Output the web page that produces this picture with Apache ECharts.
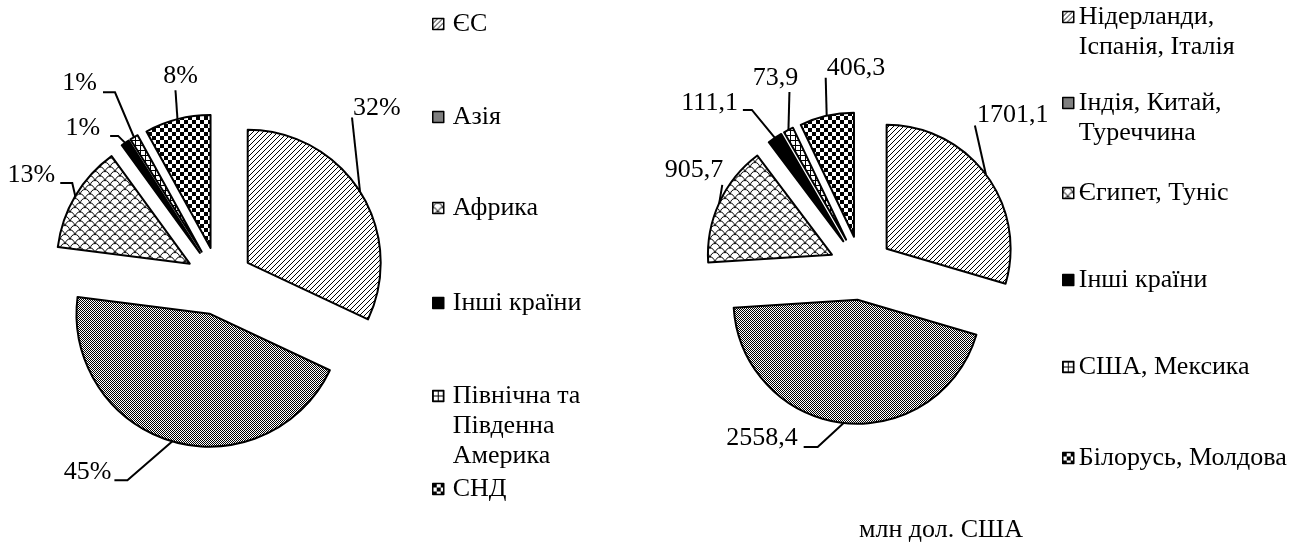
<!DOCTYPE html>
<html>
<head>
<meta charset="utf-8">
<script src="https://cdn.jsdelivr.net/npm/echarts@6/dist/echarts.min.js"></script>
<style>
html, body { margin: 0; padding: 0; background: #fff; }
#chart { width: 1303px; height: 542px; }
</style>
</head>
<body>
<div id="chart"></div>
<script>
// структура експорту, %
var leftNames = ['ЄС', 'Азія', 'Африка', 'Інші країни', 'Північна та Південна Америка', 'СНД'];
var leftShares = [32, 45, 13, 1, 1, 8];
// експорт, млн дол. США
var rightNames = ['Нідерланди, Іспанія, Італія', 'Індія, Китай, Туреччина', 'Єгипет, Туніс', 'Інші країни', 'США, Мексика', 'Білорусь, Молдова'];
var rightValues = [1701.1, 2558.4, 905.7, 111.1, 73.9, 406.3];
// як підписи стоять у легенді (з переносами)
var leftLegendText = ['ЄС', 'Азія', 'Африка', 'Інші країни', 'Північна та\nПівденна\nАмерика', 'СНД'];
var rightLegendText = ['Нідерланди,\nІспанія, Італія', 'Індія, Китай,\nТуреччина', 'Єгипет, Туніс', 'Інші країни', 'США, Мексика', 'Білорусь, Молдова'];
var unitText = 'млн дол. США';

var FONT = "'Liberation Serif', 'DejaVu Serif', serif";
var FS = 26;
var LH = 30;

// штрихування
function tile(w, h, draw) {
  var c = document.createElement('canvas');
  c.width = w; c.height = h;
  var ctx = c.getContext('2d');
  ctx.fillStyle = '#fff';
  ctx.fillRect(0, 0, w, h);
  ctx.fillStyle = '#000';
  ctx.strokeStyle = '#000';
  draw(ctx);
  return { image: c, repeat: 'repeat' };
}
var hatch = tile(5, 5, function (ctx) {
  ctx.lineWidth = 1;
  ctx.beginPath();
  ctx.moveTo(-1, 6); ctx.lineTo(6, -1);
  ctx.moveTo(-1, 1); ctx.lineTo(1, -1);
  ctx.moveTo(4, 6); ctx.lineTo(6, 4);
  ctx.stroke();
});
var dither = tile(2, 2, function (ctx) {
  ctx.fillRect(0, 0, 1, 1);
  ctx.fillRect(1, 1, 1, 1);
});
var scales = tile(10, 9, function (ctx) {
  ctx.lineWidth = 1;
  ctx.beginPath(); ctx.arc(5, 5, 4.5, Math.PI, 2 * Math.PI); ctx.stroke();
  ctx.beginPath(); ctx.arc(0, 9.5, 4.5, Math.PI, 2 * Math.PI); ctx.stroke();
  ctx.beginPath(); ctx.arc(10, 9.5, 4.5, Math.PI, 2 * Math.PI); ctx.stroke();
});
var grid = tile(5, 5, function (ctx) {
  ctx.fillRect(0, 0, 5, 1);
  ctx.fillRect(0, 0, 1, 5);
});
var checker = tile(8, 8, function (ctx) {
  ctx.fillRect(0, 0, 4, 4);
  ctx.fillRect(4, 4, 4, 4);
});
var fills = [hatch, dither, scales, '#000', grid, checker];

// зсув підписів від точки на дузі
var leftLabelPos = [
  { line: [[-8, -74]], text: [-7, -83], align: 'left' },
  { line: [[-45, 39], [-58, 39]], text: [-61, 31], align: 'right' },
  { line: [[-3, -13], [-15, -13]], text: [-20, -21], align: 'right' },
  { line: [[-7, -7], [-15, -7]], text: [-25, -15], align: 'right' },
  { line: [[-19, -45], [-31, -45]], text: [-37, -54], align: 'right' },
  { line: [[-2, -29]], text: [3, -43], align: 'center' }
];
var rightLabelPos = [
  { line: [[-11, -49]], text: [-9, -59], align: 'left' },
  { line: [[-26, 24], [-40, 24]], text: [-46, 15], align: 'right' },
  { line: [[3, -18]], text: [4, -33], align: 'right' },
  { line: [[-23, -28], [-32, -28]], text: [-37, -35], align: 'right' },
  { line: [[1, -38]], text: [-13, -52], align: 'center' },
  { line: [[-1, -38]], text: [0, -48], align: 'left' }
];

// розсунутий пиріг: кожен сектор окремою серією, зсунутою вздовж своєї бісектриси
function explodedPie(names, values, center, radius, offset, fmt, pos) {
  var total = values.reduce(function (s, v) { return s + v; }, 0);
  var cum = 0;
  var out = [];
  names.forEach(function (name, i) {
    var mid = (90 - (cum + values[i] / 2) / total * 360) * Math.PI / 180;
    cum += values[i];
    out.push({
      type: 'pie',
      center: [center[0] + offset * Math.cos(mid), center[1] - offset * Math.sin(mid)],
      radius: radius,
      startAngle: 90,
      clockwise: true,
      avoidLabelOverlap: false,
      animation: false,
      silent: true,
      label: {
        show: false, position: 'outside', color: '#000',
        fontFamily: FONT, fontSize: FS, formatter: fmt
      },
      labelLine: { show: false, length: 10, length2: 10, lineStyle: { color: '#000', width: 2 } },
      labelLayout: function (p) {
        if (p.dataIndex !== i || !p.labelLinePoints) return {};
        var a = p.labelLinePoints[0];
        var s = pos[i];
        var pts = [[a[0], a[1]]];
        s.line.forEach(function (d) { pts.push([a[0] + d[0], a[1] + d[1]]); });
        return {
          x: a[0] + s.text[0], y: a[1] + s.text[1],
          align: s.align, verticalAlign: 'middle',
          labelLinePoints: pts
        };
      },
      data: names.map(function (n, j) {
        var on = j === i;
        return {
          name: n, value: values[j],
          itemStyle: on ? { color: fills[j], borderColor: '#000', borderWidth: 2 }
                        : { color: 'rgba(0,0,0,0)', borderWidth: 0 },
          label: { show: on },
          labelLine: { show: on }
        };
      })
    });
  });
  return out;
}

// легенда: окремий блок на кожен пункт, значок на рівні першого рядка
function legendFor(name, fill, text, left, cy, padLeft) {
  var lines = text.split('\n').length;
  var padded = new Array(lines).join('\n') + text;
  return {
    data: [{ name: name, itemStyle: { color: fill, borderColor: '#000', borderWidth: 1.5 } }],
    formatter: function () { return padded; },
    left: left,
    top: cy - (2 * lines - 1) * LH / 2,
    padding: 0,
    itemWidth: 11,
    itemHeight: 11,
    icon: 'rect',
    selectedMode: false,
    textStyle: {
      fontFamily: FONT, fontSize: FS, color: '#000', lineHeight: LH,
      padding: [0, 0, 0, padLeft]
    }
  };
}

var leftLegendY = [24, 117, 208, 303, 396, 489];
var rightLegendY = [17, 103, 193, 280, 367, 458];
var legends = [];
leftNames.forEach(function (n, i) { legends.push(legendFor(n, fills[i], leftLegendText[i], 432, leftLegendY[i], 4)); });
rightNames.forEach(function (n, i) { legends.push(legendFor(n, fills[i], rightLegendText[i], 1062, rightLegendY[i], 0)); });

var chart = echarts.init(document.getElementById('chart'));
chart.setOption({
  backgroundColor: '#fff',
  animation: false,
  legend: legends,
  graphic: [{
    type: 'text', x: 941, y: 530,
    style: { text: unitText, fontFamily: FONT, fontSize: FS, fill: '#000', align: 'center', verticalAlign: 'middle' }
  }],
  series: explodedPie(leftNames, leftShares, [219, 281], 133, 34, function (p) { return p.value + '%'; }, leftLabelPos)
    .concat(explodedPie(rightNames, rightValues, [861, 268], 124, 32, function (p) { return String(p.value).replace('.', ','); }, rightLabelPos))
});
</script>
</body>
</html>
